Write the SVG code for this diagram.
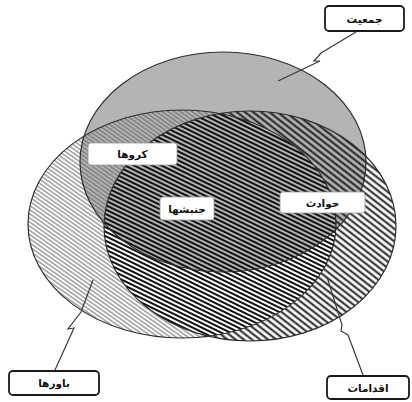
<svg xmlns="http://www.w3.org/2000/svg" width="412" height="402" viewBox="0 0 412 402">
  <style>
    .outline { fill: none; stroke: #2e2e2e; stroke-width: 1.2; }
    .lead { fill: none; stroke: #3a3a3a; stroke-width: 1.2; stroke-linejoin: miter; }
    .obox { fill: #ffffff; stroke: #1a1a1a; stroke-width: 1.8; }
    .ibox { fill: #ffffff; stroke: #9a9a9a; stroke-width: 0.8; }
    .lbl { font-family: "DejaVu Sans", "Noto Sans", sans-serif; font-size: 10.5px; font-weight: bold; fill: #111; text-anchor: middle; direction: rtl; }
  </style>
  <defs>
    <pattern id="pThin" patternUnits="userSpaceOnUse" width="12" height="3.4" patternTransform="rotate(35)">
      <line x1="0" y1="1.7" x2="12" y2="1.7" stroke="#5a5a5a" stroke-width="0.9"/>
    </pattern>
    <pattern id="pThick" patternUnits="userSpaceOnUse" width="12" height="5" patternTransform="rotate(38)">
      <line x1="0" y1="2.5" x2="12" y2="2.5" stroke="#151515" stroke-width="1.9"/>
    </pattern>
    <pattern id="pDense" patternUnits="userSpaceOnUse" width="12" height="4" patternTransform="rotate(26)">
      <line x1="0" y1="2" x2="12" y2="2" stroke="#111" stroke-width="2"/>
    </pattern>
    <mask id="mNotC" maskUnits="userSpaceOnUse" x="0" y="0" width="412" height="402">
      <rect x="0" y="0" width="412" height="402" fill="#fff"/>
      <ellipse cx="250" cy="226" rx="146" ry="115" fill="#000"/>
    </mask>
    <mask id="mNotB" maskUnits="userSpaceOnUse" x="0" y="0" width="412" height="402">
      <rect x="0" y="0" width="412" height="402" fill="#fff"/>
      <ellipse cx="182" cy="224" rx="154" ry="114" fill="#000"/>
    </mask>
    <clipPath id="cB">
      <ellipse cx="182" cy="224" rx="154" ry="114"/>
    </clipPath>
  </defs>

  <rect x="0" y="0" width="412" height="402" fill="#ffffff"/>

  <g id="regions">
    <ellipse id="setA" cx="223" cy="162" rx="143" ry="110" fill="#b4b4b4"/>
    <ellipse cx="182" cy="224" rx="154" ry="114" fill="url(#pThin)" mask="url(#mNotC)"/>
    <ellipse cx="250" cy="226" rx="146" ry="115" fill="url(#pThick)" mask="url(#mNotB)"/>
    <ellipse cx="250" cy="226" rx="146" ry="115" fill="url(#pDense)" clip-path="url(#cB)"/>
  </g>
  <g id="outlines">
    <ellipse class="outline" cx="223" cy="162" rx="143" ry="110"/>
    <ellipse class="outline" cx="182" cy="224" rx="154" ry="114"/>
    <ellipse class="outline" cx="250" cy="226" rx="146" ry="115"/>
  </g>

  <g id="connectors">
    <path class="lead" d="M356,32 L321,53 L314,61 L320,61 L278,81"/>
    <path class="lead" d="M55,370 L74,328 L68,329 L81,312 L93,280"/>
    <path class="lead" d="M363,375 L348,335 L341,331 L342,325 L327,277"/>
  </g>

  <g id="node-jamiat">
    <rect class="obox" x="325" y="6" width="79" height="25" rx="4"/>
    <text class="lbl" x="364.5" y="22.5">جمعیت</text>
  </g>
  <g id="node-bavarha">
    <rect class="obox" x="9" y="371" width="90" height="24" rx="4"/>
    <text class="lbl" x="54" y="387">باورها</text>
  </g>
  <g id="node-eghdamat">
    <rect class="obox" x="327" y="376" width="82" height="23" rx="4"/>
    <text class="lbl" x="368" y="391.5">اقدامات</text>
  </g>
  <g id="node-goruhha">
    <rect class="ibox" x="88" y="143" width="89" height="22" rx="3"/>
    <text class="lbl" x="132.5" y="158">کروها</text>
  </g>
  <g id="node-jonbeshha">
    <rect class="ibox" x="160" y="197" width="54" height="23" rx="3"/>
    <text class="lbl" x="187" y="212.5">جنبشها</text>
  </g>
  <g id="node-havades">
    <rect class="ibox" x="280" y="192" width="85" height="21" rx="3"/>
    <text class="lbl" x="322.5" y="206.5">حوادث</text>
  </g>
</svg>
